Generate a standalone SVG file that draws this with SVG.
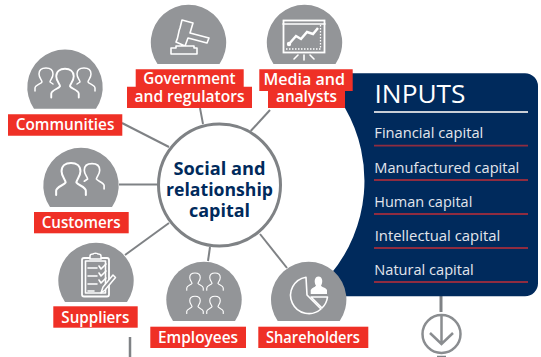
<svg xmlns="http://www.w3.org/2000/svg" width="541" height="357" viewBox="0 0 541 357">
<defs>
<style>
.disc{fill:#939598}
.lab{fill:#ef3026}
.lt{font-family:"Open Sans","Liberation Sans",sans-serif;font-weight:600;font-size:15.5px;fill:#fff}
.ic{fill:none;stroke:#fff;stroke-width:1.6;stroke-linejoin:round;stroke-linecap:round}
.conn{fill:none;stroke:#7f8285;stroke-width:2}
.it{font-family:"Open Sans","Liberation Sans",sans-serif;font-size:14.5px;fill:#e3e6ec}
.rule{stroke:#8f2c40;stroke-width:1.800}
.ct{font-family:"Open Sans","Liberation Sans",sans-serif;font-weight:700;font-size:18px;fill:#002a5c}
</style>
<path id="p" d="M-11 14 v-3 c0-3 6-4 7-6 c0-2-3-4-3-8 c0-4 3-6 7-6 s7 2 7 6 c0 4-3 6-3 8 c1 2 7 3 7 6 v3" fill="none" stroke="#fff" stroke-width="1.500" stroke-linecap="round" stroke-linejoin="round"/>
<path id="s" d="M-11 14 v-3 c0-3 6-4 7-6 c0-2-3-4-3-8 c0-4 3-6 7-6 s7 2 7 6 c0 4-3 6-3 8 l3 2" fill="none" stroke="#fff" stroke-width="1.500" stroke-linecap="round" stroke-linejoin="round"/>
</defs>
<rect width="541" height="357" fill="#fff"/>
<g id="connectors" class="conn">
<path d="M200 108 L203 124"/>
<path d="M270 110 L250.700 131"/>
<path d="M122 123 L169 147"/>
<path d="M119 184.500 L157 184.500"/>
<path d="M125 255 L169 223"/>
<path d="M210 247 L208 261"/>
<path d="M260 234 L287 268"/>
<path d="M441 296 V312" stroke-width="3"/>
<path d="M130 337 V357" stroke-width="2.500"/>
<path d="M437 356.500 H446" stroke-width="1.500"/>
</g>
<g id="inputs">
<path d="M345 73.300 H525 a13 13 0 0 1 13 13 V283.300 a13 13 0 0 1 -13 13 H330 V275 A146 146 0 0 0 345 108 Z" fill="#002a5c"/>
<text x="374.500" y="103" font-family="'Open Sans','Liberation Sans',sans-serif" font-size="26" fill="#fff" textLength="91" lengthAdjust="spacingAndGlyphs">INPUTS</text>
<line x1="374" y1="112" x2="528" y2="112" stroke="#c9ced6" stroke-width="2"/>
<text class="it" x="374.300" y="138" textLength="109" lengthAdjust="spacingAndGlyphs">Financial capital</text><line class="rule" x1="374" y1="145.700" x2="528" y2="145.700"/>
<text class="it" x="374.300" y="172.500" textLength="145" lengthAdjust="spacingAndGlyphs">Manufactured capital</text><line class="rule" x1="374" y1="180" x2="528" y2="180"/>
<text class="it" x="374.300" y="207" textLength="98" lengthAdjust="spacingAndGlyphs">Human capital</text><line class="rule" x1="374" y1="214" x2="528" y2="214"/>
<text class="it" x="374.700" y="241" textLength="125.500" lengthAdjust="spacingAndGlyphs">Intellectual capital</text><line class="rule" x1="374" y1="248" x2="528" y2="248"/>
<text class="it" x="374.300" y="275" textLength="99.500" lengthAdjust="spacingAndGlyphs">Natural capital</text><line class="rule" x1="374" y1="282" x2="528" y2="282"/>
</g>
<g id="centre">
<circle cx="219.500" cy="185" r="61" fill="#fff" stroke="#7f8285" stroke-width="3"/>
<text class="ct" x="173.500" y="174.500" textLength="92" lengthAdjust="spacingAndGlyphs">Social and</text>
<text class="ct" x="166" y="196" textLength="107" lengthAdjust="spacingAndGlyphs">relationship</text>
<text class="ct" x="189" y="217" textLength="61" lengthAdjust="spacingAndGlyphs">capital</text>
</g>
<g id="government">
<path class="disc" d="M157.500 64 A37.700 37.700 0 1 1 219.500 64 Z"/>
<path class="ic" d="M182 20 L193 23 L190 33 L209 38 L207 43 L188 38 L185 46 L176 42 C179 36 178 32 180 28 Z M171 54 V48 H176 V46 H194 V48 H197 V54 Z"/>
<path class="lab" d="M135.700 69.300 H243.700 V86.700 H252 V108 H127 V86.700 H135.700 Z"/>
<text class="lt" x="143.300" y="84" textLength="92.300" lengthAdjust="spacingAndGlyphs">Government</text>
<text class="lt" x="134.500" y="102" textLength="110" lengthAdjust="spacingAndGlyphs">and regulators</text>
</g>
<g id="media">
<path class="disc" d="M273.500 64 A37.700 37.700 0 1 1 335.500 64 Z"/>
<rect x="283.500" y="20.500" width="41" height="32" fill="none" stroke="#fff" stroke-width="1.800"/>
<path class="ic" d="M283 24 H325"/>
<path d="M320.500 25 V49 H286" fill="none" stroke="#fff" stroke-width="1.300" stroke-dasharray="1.500 1.500"/>
<path d="M289 44 L296 36 L301 39 L307 32 L313 34 L318 28" fill="none" stroke="#fff" stroke-width="2.500"/>
<circle cx="289" cy="44" r="2.200" fill="#fff"/>
<path class="ic" d="M294 59 L298 55 M304 55 V60 M310 55 L314 59"/>
<path class="lab" d="M259.300 69.300 H352.700 V91 H345 V108 H268 V91 H259.300 Z"/>
<text class="lt" x="263.500" y="84.500" textLength="81.500" lengthAdjust="spacingAndGlyphs">Media and</text>
<text class="lt" x="276" y="102" textLength="61" lengthAdjust="spacingAndGlyphs">analysts</text>
</g>
<g id="communities">
<path class="disc" d="M34 108.700 A37.700 37.700 0 1 1 96 108.700 Z"/>
<use href="#s" transform="translate(46 77)"/>
<use href="#s" transform="translate(84 77) scale(-1 1)"/>
<use href="#p" transform="translate(65 80) scale(1.250)"/>
<path class="lab" d="M8 114.300 H122.300 V135.700 H8 Z"/>
<text class="lt" x="15.700" y="130" textLength="98.700" lengthAdjust="spacingAndGlyphs">Communities</text>
</g>
<g id="customers">
<path class="disc" d="M50 207 A37.700 37.700 0 1 1 112 207 Z"/>
<use href="#s" transform="translate(92 173.500) scale(-1.100 1.100)"/>
<use href="#p" transform="translate(71 175.500) scale(1.350 1.390)"/>
<rect class="lab" x="34" y="212" width="94.700" height="21.300"/>
<text class="lt" x="41.700" y="228" textLength="79" lengthAdjust="spacingAndGlyphs">Customers</text>
</g>
<g id="suppliers">
<path class="disc" d="M65 302 A37.700 37.700 0 1 1 127 302 Z"/>
<rect x="82" y="258" width="27" height="38.500" rx="2" fill="none" stroke="#fff" stroke-width="1.800"/>
<path class="ic" d="M85.500 261 H105.500 V293 H85.500 Z" stroke-width="1"/>
<path d="M90 259 V256 C90 254 93 254 93 254 C93 253 98 253 98 254 C98 254 101 254 101 256 V259 Z" fill="#939598" stroke="#fff" stroke-width="1.500"/>
<path class="ic" d="M88 268 H97 M88 276 H97 M88 284 H97 M88 291 H94"/>
<path class="ic" d="M99 266 L101 269 L106 264 M99 273 L101 276 L106 271 M99 280 L101 283 L106 278"/>
<path d="M101 293 L103 287 L113 275 L115.500 277.500 L105 290 Z" fill="#939598" stroke="#fff" stroke-width="1.500" stroke-linejoin="round"/>
<rect class="lab" x="53.300" y="306.300" width="84.400" height="21.400"/>
<text class="lt" x="61.300" y="322.500" textLength="68" lengthAdjust="spacingAndGlyphs">Suppliers</text>
</g>
<g id="employees">
<path class="disc" d="M173 321 A37.700 37.700 0 1 1 235 321 Z"/>
<use href="#p" transform="translate(195 279.700) scale(.75)"/>
<use href="#p" transform="translate(215 279.700) scale(.75)"/>
<use href="#p" transform="translate(195 303) scale(.75)"/>
<use href="#p" transform="translate(215 303) scale(.75)"/>
<rect class="lab" x="150.300" y="326.700" width="95.700" height="21.300"/>
<text class="lt" x="158" y="343" textLength="80" lengthAdjust="spacingAndGlyphs">Employees</text>
</g>
<g id="shareholders">
<path class="disc" d="M277.700 321 A37.700 37.700 0 1 1 339.700 321 Z"/>
<path class="ic" d="M306 277.200 A18.300 18.300 0 1 0 321 309 L307 295 Z" stroke-width="1.200"/>
<path class="ic" d="M311 297 H327.500 A18.300 18.300 0 0 1 322 308 Z" stroke-width="1.200"/>
<path d="M310.700 294 V290 C312 287.500 315 287.500 316 285.500 C314 283 314 276.500 318.500 276.500 C323 276.500 323 283 321 285.500 C322 287.500 326 287.500 327 290 V294 Z" fill="#fff"/>
<rect class="lab" x="258.300" y="326.700" width="110" height="21.300"/>
<text class="lt" x="266" y="343" textLength="94" lengthAdjust="spacingAndGlyphs">Shareholders</text>
</g>
<g id="down-arrow" fill="none" stroke="#8a8d90" stroke-width="2.500">
<circle cx="441.500" cy="334" r="19"/>
<path d="M441.500 315 V344 M430 333 L441.500 344 L453 333"/>
</g>
</svg>
